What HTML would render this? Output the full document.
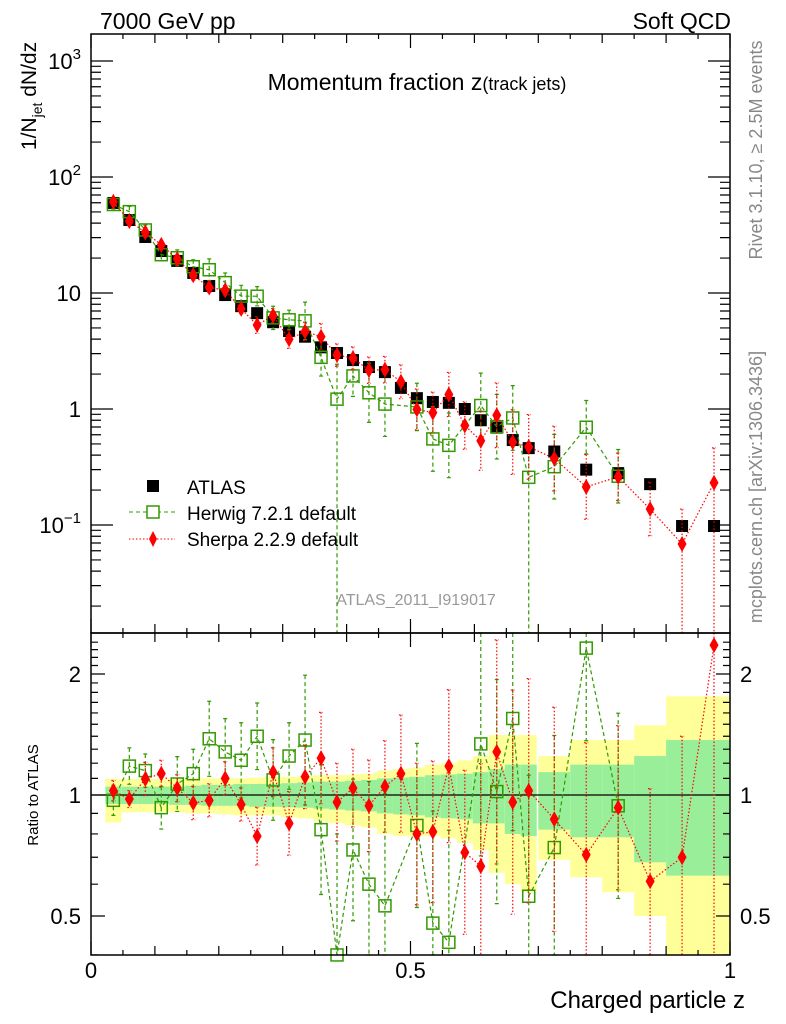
<!DOCTYPE html>
<html><head><meta charset="utf-8"><style>
html,body{margin:0;padding:0;background:#fff;}
svg{display:block;font-family:"Liberation Sans",sans-serif;}
</style></head><body>
<svg id="chart" width="786" height="1024" viewBox="0 0 786 1024" xmlns="http://www.w3.org/2000/svg">
<text x="100" y="29" font-size="23">7000 GeV pp</text>
<text x="731" y="29" font-size="23" text-anchor="end">Soft QCD</text>
<text x="417" y="90" font-size="23" text-anchor="middle">Momentum fraction z<tspan font-size="18">(track jets)</tspan></text>
<text transform="translate(36,96) rotate(-90)" font-size="21" text-anchor="middle">1/N<tspan font-size="14" dy="6">jet</tspan><tspan dy="-6"> dN/dz</tspan></text>
<text transform="translate(762,150) rotate(-90)" font-size="18" fill="#888" text-anchor="middle">Rivet 3.1.10, ≥ 2.5M events</text>
<text transform="translate(762,487) rotate(-90)" font-size="18" fill="#888" text-anchor="middle">mcplots.cern.ch [arXiv:1306.3436]</text>
<text x="416" y="605" font-size="16" fill="#999" text-anchor="middle">ATLAS_2011_I919017</text>
<text transform="translate(38,795) rotate(-90)" font-size="15" text-anchor="middle">Ratio to ATLAS</text>
<text x="745" y="1008" font-size="24" text-anchor="end">Charged particle z</text>
<g id="bands"></g><g id="grid"></g><g id="series"></g><g id="axes"></g>
<g>
<rect x="147" y="480" width="12" height="12" fill="#000"/>
<text x="187" y="494" font-size="19">ATLAS</text>
<line x1="129" y1="512" x2="175" y2="512" stroke="#339900" stroke-dasharray="4,3"/>
<rect x="147" y="506" width="12" height="12" fill="#fff" stroke="#339900" stroke-width="1.5"/>
<text x="187" y="520" font-size="19">Herwig 7.2.1 default</text>
<line x1="129" y1="539" x2="175" y2="539" stroke="#f00" stroke-dasharray="1.5,2"/>
<path d="M153,531 L157,539 L153,547 L149,539 Z" fill="#f00"/>
<text x="187" y="546" font-size="19">Sherpa 2.2.9 default</text>
</g>
</svg>
<script>
const zCenters=[0.035,0.06,0.085,0.11,0.135,0.16,0.185,0.21,0.235,0.26,0.285,0.31,0.335,0.36,0.385,0.41,0.435,0.46,0.485,0.51,0.535,0.56,0.585,0.61,0.635,0.66,0.685,0.725,0.775,0.825,0.875,0.925,0.975];
const binWidths=[0.025,0.025,0.025,0.025,0.025,0.025,0.025,0.025,0.025,0.025,0.025,0.025,0.025,0.025,0.025,0.025,0.025,0.025,0.025,0.025,0.025,0.025,0.025,0.025,0.025,0.025,0.025,0.05,0.05,0.05,0.05,0.05,0.05];
const atlasValues=[59.7,42.6,30.4,23.0,18.9,14.9,11.5,9.6,7.7,6.7,5.6,4.7,4.2,3.4,3.04,2.64,2.30,2.08,1.52,1.24,1.15,1.13,1.0,0.80,0.69,0.54,0.46,0.43,0.30,0.28,0.225,0.098,0.098];
const herwigRatio=[0.97,1.18,1.15,0.93,1.065,1.13,1.38,1.28,1.22,1.40,1.09,1.25,1.37,0.82,0.40,0.73,0.60,0.53,null,0.84,0.48,0.43,null,1.34,1.02,1.55,0.56,0.74,2.32,0.94,null,null,null];
const herwigErr=[0.09,0.11,0.10,0.13,0.17,0.15,0.24,0.21,0.24,0.21,0.26,0.21,0.45,0.45,1.0,0.5,0.8,0.9,0,0.6,0.9,0.9,0,0.9,0.9,0.9,1.0,0.9,0.7,0.7,0,0,0];
const sherpaRatio=[1.025,0.977,1.096,1.13,1.04,0.955,0.97,1.10,0.947,0.79,1.14,0.85,1.11,1.235,0.96,1.04,0.94,1.05,1.13,0.80,0.81,1.18,0.72,0.665,1.28,0.96,1.025,0.87,0.71,0.93,0.61,0.70,2.36];
const sherpaErr=[0.06,0.05,0.10,0.08,0.08,0.10,0.10,0.10,0.10,0.18,0.15,0.20,0.20,0.30,0.25,0.25,0.30,0.30,0.40,0.50,0.50,0.55,0.60,0.80,0.90,0.9,0.9,0.9,0.9,0.6,0.7,1.0,1.0];
const yellowTop=[1.096,1.096,1.096,1.096,1.096,1.10,1.10,1.10,1.10,1.105,1.11,1.11,1.115,1.12,1.12,1.125,1.13,1.15,1.16,1.17,1.19,1.20,1.22,1.25,1.41,1.41,1.41,1.25,1.37,1.37,1.49,1.76,1.76];
const yellowBot=[0.855,0.906,0.906,0.906,0.906,0.90,0.90,0.895,0.89,0.89,0.89,0.88,0.875,0.86,0.85,0.84,0.83,0.80,0.79,0.79,0.79,0.78,0.76,0.73,0.64,0.60,0.573,0.69,0.624,0.573,0.50,0.30,0.30];
const greenTop=[1.049,1.049,1.049,1.049,1.05,1.055,1.06,1.06,1.065,1.065,1.065,1.07,1.075,1.08,1.08,1.085,1.09,1.10,1.105,1.11,1.12,1.125,1.13,1.14,1.16,1.19,1.19,1.14,1.19,1.19,1.25,1.37,1.37];
const greenBot=[0.95,0.95,0.95,0.95,0.945,0.945,0.94,0.94,0.94,0.935,0.935,0.932,0.93,0.925,0.92,0.915,0.91,0.90,0.895,0.89,0.88,0.875,0.87,0.85,0.85,0.80,0.79,0.82,0.785,0.785,0.68,0.63,0.63];
const mainTickBases=["10","10","10","1","10"];
const mainTickExps=["3","2","","","−1"];
const mainTickValues=[1000,100,10,1,0.1];
const ratioTickValues=[2,1,0.5];
const ratioTickLabels=["2","1","0.5"];
const xTickValues=[0,0.5,1];
const xTickLabels=["0","0.5","1"];

const NS="http://www.w3.org/2000/svg";
const L=91,R=730,T=34,MB=633,RB=955;
const X=z=>L+(R-L)*z;
const Ym=v=>409-116*Math.log10(v);
const Yr=r=>795-121*Math.log2(r);
const clampM=y=>Math.max(T,Math.min(MB,y));
const clampR=y=>Math.max(MB,Math.min(RB,y));
function mk(tag,attrs,parent){const e=document.createElementNS(NS,tag);for(const k in attrs)e.setAttribute(k,attrs[k]);(typeof parent==='string'?document.getElementById(parent):parent).appendChild(e);return e;}

for(let i=0;i<zCenters.length;i++){
  const x0=X(zCenters[i]-binWidths[i]/2),x1=X(zCenters[i]+binWidths[i]/2);
  const y1=clampR(Yr(yellowTop[i])),y2=clampR(Yr(yellowBot[i]));
  const e=mk('rect',{x:x0,y:y1,width:x1-x0,height:y2-y1,fill:'#ffff99'},'bands');
  
  
  const g1=clampR(Yr(greenTop[i])),g2=clampR(Yr(greenBot[i]));
  const g=mk('rect',{x:x0,y:g1,width:x1-x0,height:g2-g1,fill:'#99ee99'},'bands');
  
  
}
const one=mk('line',{x1:L,x2:R,y1:Yr(1),y2:Yr(1),stroke:'#000','stroke-width':1.2},'grid');



function drawSeries(name,ratios,errs,color,dash,marker){
  let pm=[],pr=[];
  for(let i=0;i<zCenters.length;i++){
    if(ratios[i]===null){pm.push(null);pr.push(null);continue;}
    const v=atlasValues[i]*ratios[i];
    pm.push([X(zCenters[i]),Ym(v),v]);pr.push([X(zCenters[i]),Yr(ratios[i]),ratios[i]]);
  }
  [[pm,Ym,clampM,MB],[pr,Yr,clampR,RB]].forEach(([pts,f,cl,bot],panel)=>{
    let d='';
    pts.forEach(p=>{if(!p)return;d+=(d?'L':'M')+p[0]+','+cl(p[1]);});
    const ln=mk('path',{d:d,fill:'none',stroke:color,'stroke-width':1.2,'stroke-dasharray':dash},'series');
    
    
    pts.forEach((p,i)=>{if(!p)return;
      const e=errs[i];const up=cl(f(p[2]*(1+e)));const lo=e>=1?bot:cl(f(p[2]/(1+e)));
      const eb=mk('path',{d:`M${p[0]},${up}L${p[0]},${lo}M${p[0]-2},${up}L${p[0]+2},${up}`+(e<1?`M${p[0]-2},${lo}L${p[0]+2},${lo}`:''),stroke:color,'stroke-width':1.2,'stroke-dasharray':dash,fill:'none'},'series');
      
      
      const y=p[1];if(y<T-5||y>bot+5)return;
      let m;
      if(marker==='square'){m=mk('rect',{x:p[0]-6,y:y-6,width:12,height:12,fill:'none',stroke:color,'stroke-width':1.5},'series');}
      else{m=mk('path',{d:`M${p[0]},${y-8}L${p[0]+4.5},${y}L${p[0]},${y+8}L${p[0]-4.5},${y}Z`,fill:color},'series');}
      
      
    });
  });
}
for(let i=0;i<zCenters.length;i++){
  const a=mk('rect',{x:X(zCenters[i])-6,y:Ym(atlasValues[i])-6,width:12,height:12,fill:'#000'},'series');
  
  
}
drawSeries('herwig',herwigRatio,herwigErr,'#339900','4,3','square');
drawSeries('sherpa',sherpaRatio,sherpaErr,'#ff0000','1.5,2','diamond');

[[T,MB],[MB,RB]].forEach(([t,b],k)=>{
  const f=mk('rect',{x:L,y:t,width:R-L,height:b-t,fill:'none',stroke:'#000','stroke-width':1.5},'axes');
  
  
});
let td='';
for(let k=0;k<=20;k++){const x=X(k*0.05);const len=k%10===0?14:(k%2===0?9:5);
  [T,MB].forEach(y=>{td+=`M${x},${y}L${x},${y+len}`;});
  [MB,RB].forEach(y=>{td+=`M${x},${y}L${x},${y-len}`;});}
for(let dec=-2;dec<=3;dec++){for(let m=1;m<10;m++){const v=m*Math.pow(10,dec);const y=Ym(v);if(y<T||y>MB)continue;const len=m===1?22:10;td+=`M${L},${y}L${L+len},${y}M${R},${y}L${R-len},${y}`;}}
for(let r=0.4;r<=2.5;r+=0.1){const y=Yr(r);if(y<MB||y>RB)continue;const maj=[0.5,1,2].some(q=>Math.abs(q-r)<1e-6);const len=maj?14:7;td+=`M${L},${y}L${L+len},${y}M${R},${y}L${R-len},${y}`;}
const tk=mk('path',{d:td,stroke:'#000','stroke-width':1.2,fill:'none'},'axes');


mainTickValues.forEach((v,i)=>{const t=mk('text',{x:81,y:Ym(v)+8,'font-size':22,'text-anchor':'end'},'axes');
  t.textContent=mainTickBases[i];
  if(mainTickExps[i]){const s=mk('tspan',{'font-size':15,dy:-10},t);s.textContent=mainTickExps[i];}
  
  });
ratioTickValues.forEach((v,i)=>{[[81,'end'],[740,'start']].forEach(([x,a])=>{const t=mk('text',{x:x,y:Yr(v)+8,'font-size':22,'text-anchor':a},'axes');t.textContent=ratioTickLabels[i];
  
  });});
xTickValues.forEach((v,i)=>{const t=mk('text',{x:X(v),y:978,'font-size':22,'text-anchor':'middle'},'axes');t.textContent=xTickLabels[i];
  
  });
</script>
</body></html>
